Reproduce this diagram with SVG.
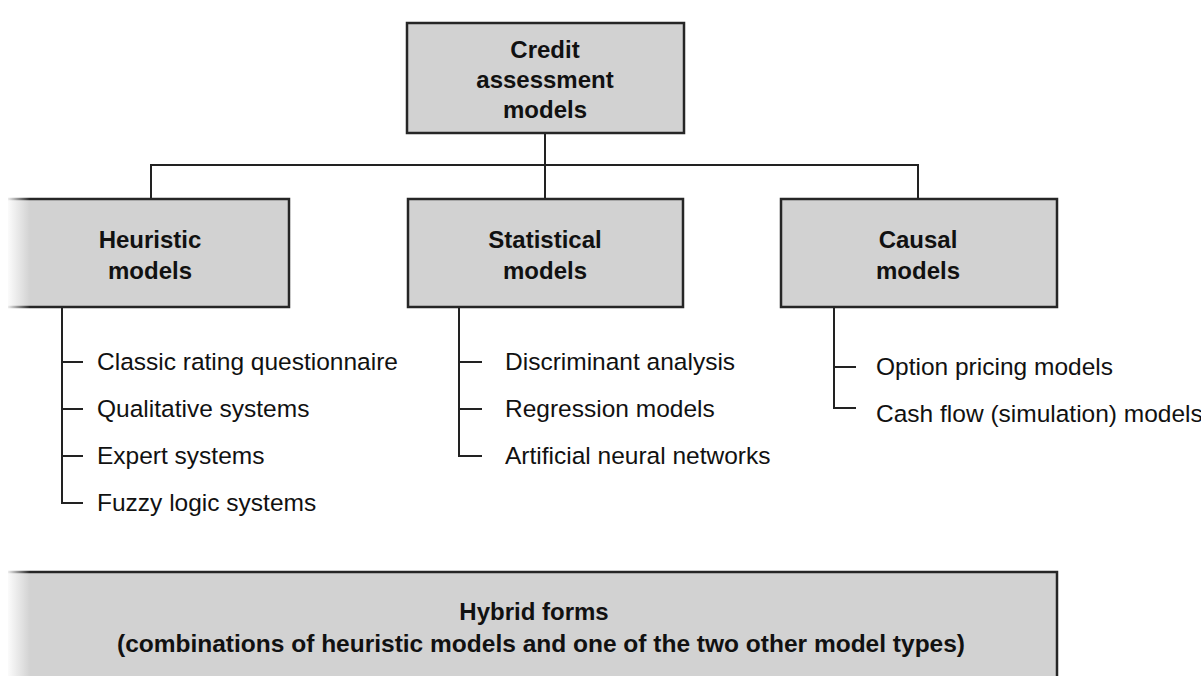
<svg xmlns="http://www.w3.org/2000/svg" width="1201" height="676" viewBox="0 0 1201 676">
<defs>
<style>
.box{fill:#d2d2d2;stroke:#262626;stroke-width:2.5}
.title{font-family:"Liberation Sans",Arial,sans-serif;font-weight:bold;font-size:24px;fill:#111;text-anchor:middle}
.item{font-family:"Liberation Sans",Arial,sans-serif;font-size:24.5px;fill:#111}
.line{fill:none;stroke:#222;stroke-width:2}
</style>
<linearGradient id="fadeL" gradientUnits="userSpaceOnUse" x1="6" y1="0" x2="30" y2="0">
<stop offset="0" stop-color="#ffffff"/>
<stop offset="1" stop-color="#d2d2d2"/>
</linearGradient>
<linearGradient id="fadeS" gradientUnits="userSpaceOnUse" x1="6" y1="0" x2="30" y2="0">
<stop offset="0" stop-color="#ffffff"/>
<stop offset="1" stop-color="#262626"/>
</linearGradient>
</defs>
<rect width="1201" height="676" fill="#ffffff"/>
<g id="connectors">
<path class="line" d="M545,133 V198"/>
<path class="line" d="M151,198 V165 H918 V198"/>
<path class="line" d="M62,308 V503 H83 M62,362 H83 M62,409 H83 M62,456 H83"/>
<path class="line" d="M459,308 V456 H482 M459,362 H482 M459,409 H482"/>
<path class="line" d="M834,308 V408 H856 M834,367 H856"/>
</g>
<g id="credit">
<rect class="box" x="407" y="23" width="277" height="110"/>
<text class="title" x="545" y="58">Credit</text>
<text class="title" x="545" y="88">assessment</text>
<text class="title" x="545" y="118">models</text>
</g>
<g id="heuristic">
<rect x="8" y="199" width="281" height="108" fill="url(#fadeL)"/>
<path d="M8,199 H289 V307 H8" fill="none" stroke="url(#fadeS)" stroke-width="2.5"/>
<text class="title" x="150" y="248">Heuristic</text>
<text class="title" x="150" y="279">models</text>
</g>
<g id="statistical">
<rect class="box" x="408" y="199" width="275" height="108"/>
<text class="title" x="545" y="248">Statistical</text>
<text class="title" x="545" y="279">models</text>
</g>
<g id="causal">
<rect class="box" x="781" y="199" width="276" height="108"/>
<text class="title" x="918" y="248">Causal</text>
<text class="title" x="918" y="279">models</text>
</g>
<g id="heuristic-items">
<text class="item" x="97" y="370">Classic rating questionnaire</text>
<text class="item" x="97" y="417">Qualitative systems</text>
<text class="item" x="97" y="464">Expert systems</text>
<text class="item" x="97" y="511">Fuzzy logic systems</text>
</g>
<g id="statistical-items">
<text class="item" x="505" y="370">Discriminant analysis</text>
<text class="item" x="505" y="417">Regression models</text>
<text class="item" x="505" y="464">Artificial neural networks</text>
</g>
<g id="causal-items">
<text class="item" x="876" y="375">Option pricing models</text>
<text class="item" x="876" y="422">Cash flow (simulation) models</text>
</g>
<g id="hybrid">
<rect x="8" y="572" width="1049" height="110" fill="url(#fadeL)"/>
<path d="M8,572 H1057 V682" fill="none" stroke="url(#fadeS)" stroke-width="2.5"/>
<text class="title" x="534" y="620">Hybrid forms</text>
<text class="title" x="541" y="652" style="font-size:24.5px">(combinations of heuristic models and one of the two other model types)</text>
</g>
</svg>
